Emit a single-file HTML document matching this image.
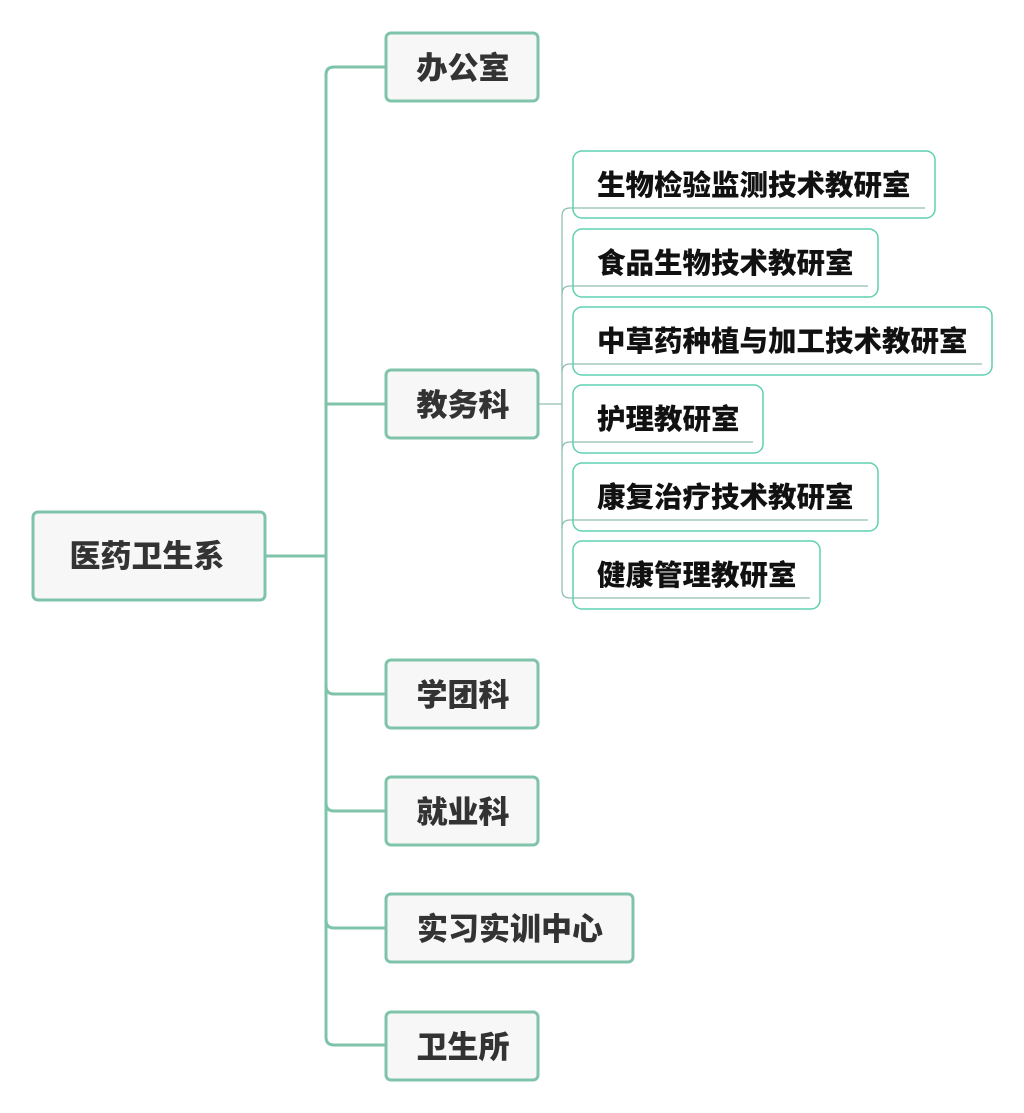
<!DOCTYPE html>
<html><head><meta charset="utf-8"><style>
html,body{margin:0;padding:0;background:#fff;width:1024px;height:1113px;overflow:hidden}
text{font-family:"Liberation Sans","Noto Sans CJK SC",sans-serif;font-weight:900}
</style></head><body>
<svg width="1024" height="1113" viewBox="0 0 1024 1113" xmlns="http://www.w3.org/2000/svg">
<g fill="none" stroke="#7fc4aa" stroke-width="3">
<path d="M265 556 H326"/>
<path d="M386 67 H334 Q326 67 326 75 V1037 Q326 1045 334 1045 H386"/>
<path d="M326 404 H386"/>
<path d="M326 686 Q326 694 334 694 H386"/>
<path d="M326 803 Q326 811 334 811 H386"/>
<path d="M326 920 Q326 928 334 928 H386"/>
</g>
<g fill="none" stroke="#8fbfb0" stroke-width="1.3">
<path d="M538 404 H562"/>
<path d="M925 208 H570 Q562 208 562 216 V590 Q562 598 570 598 H810"/>
<path d="M562 294 Q562 286 570 286 H868"/>
<path d="M562 372 Q562 364 570 364 H982"/>
<path d="M562 450 Q562 442 570 442 H753"/>
<path d="M562 528 Q562 520 570 520 H868"/>
</g>
<g fill="#f7f7f7" stroke="#7fc4aa" stroke-width="3">
<rect x="33" y="512" width="232" height="88" rx="5"/>
<rect x="386" y="33" width="152" height="68" rx="5"/>
<rect x="386" y="370" width="152" height="68" rx="5"/>
<rect x="386" y="660" width="152" height="68" rx="5"/>
<rect x="386" y="777" width="152" height="68" rx="5"/>
<rect x="386" y="894" width="247" height="68" rx="5"/>
<rect x="386" y="1012" width="152" height="68" rx="5"/>
</g>
<g fill="none" stroke="#5fd0b0" stroke-width="1.5">
<rect x="573" y="151" width="362" height="67" rx="9"/>
<rect x="573" y="229" width="305" height="68" rx="9"/>
<rect x="573" y="307" width="419" height="68" rx="9"/>
<rect x="573" y="385" width="190" height="68" rx="9"/>
<rect x="573" y="463" width="305" height="68" rx="9"/>
<rect x="573" y="541" width="247" height="68" rx="9"/>
</g>
<g fill="#333" font-size="31" text-anchor="middle">
<text x="147" y="567">医药卫生系</text>
<text x="463" y="79">办公室</text>
<text x="463" y="416">教务科</text>
<text x="463" y="706">学团科</text>
<text x="463" y="823">就业科</text>
<text x="510" y="940">实习实训中心</text>
<text x="463" y="1058">卫生所</text>
</g>
<g fill="#111" font-size="28.5">
<text x="597" y="195">生物检验监测技术教研室</text>
<text x="597" y="273">食品生物技术教研室</text>
<text x="597" y="351">中草药种植与加工技术教研室</text>
<text x="597" y="429">护理教研室</text>
<text x="597" y="507">康复治疗技术教研室</text>
<text x="597" y="585">健康管理教研室</text>
</g>
</svg>
</body></html>
